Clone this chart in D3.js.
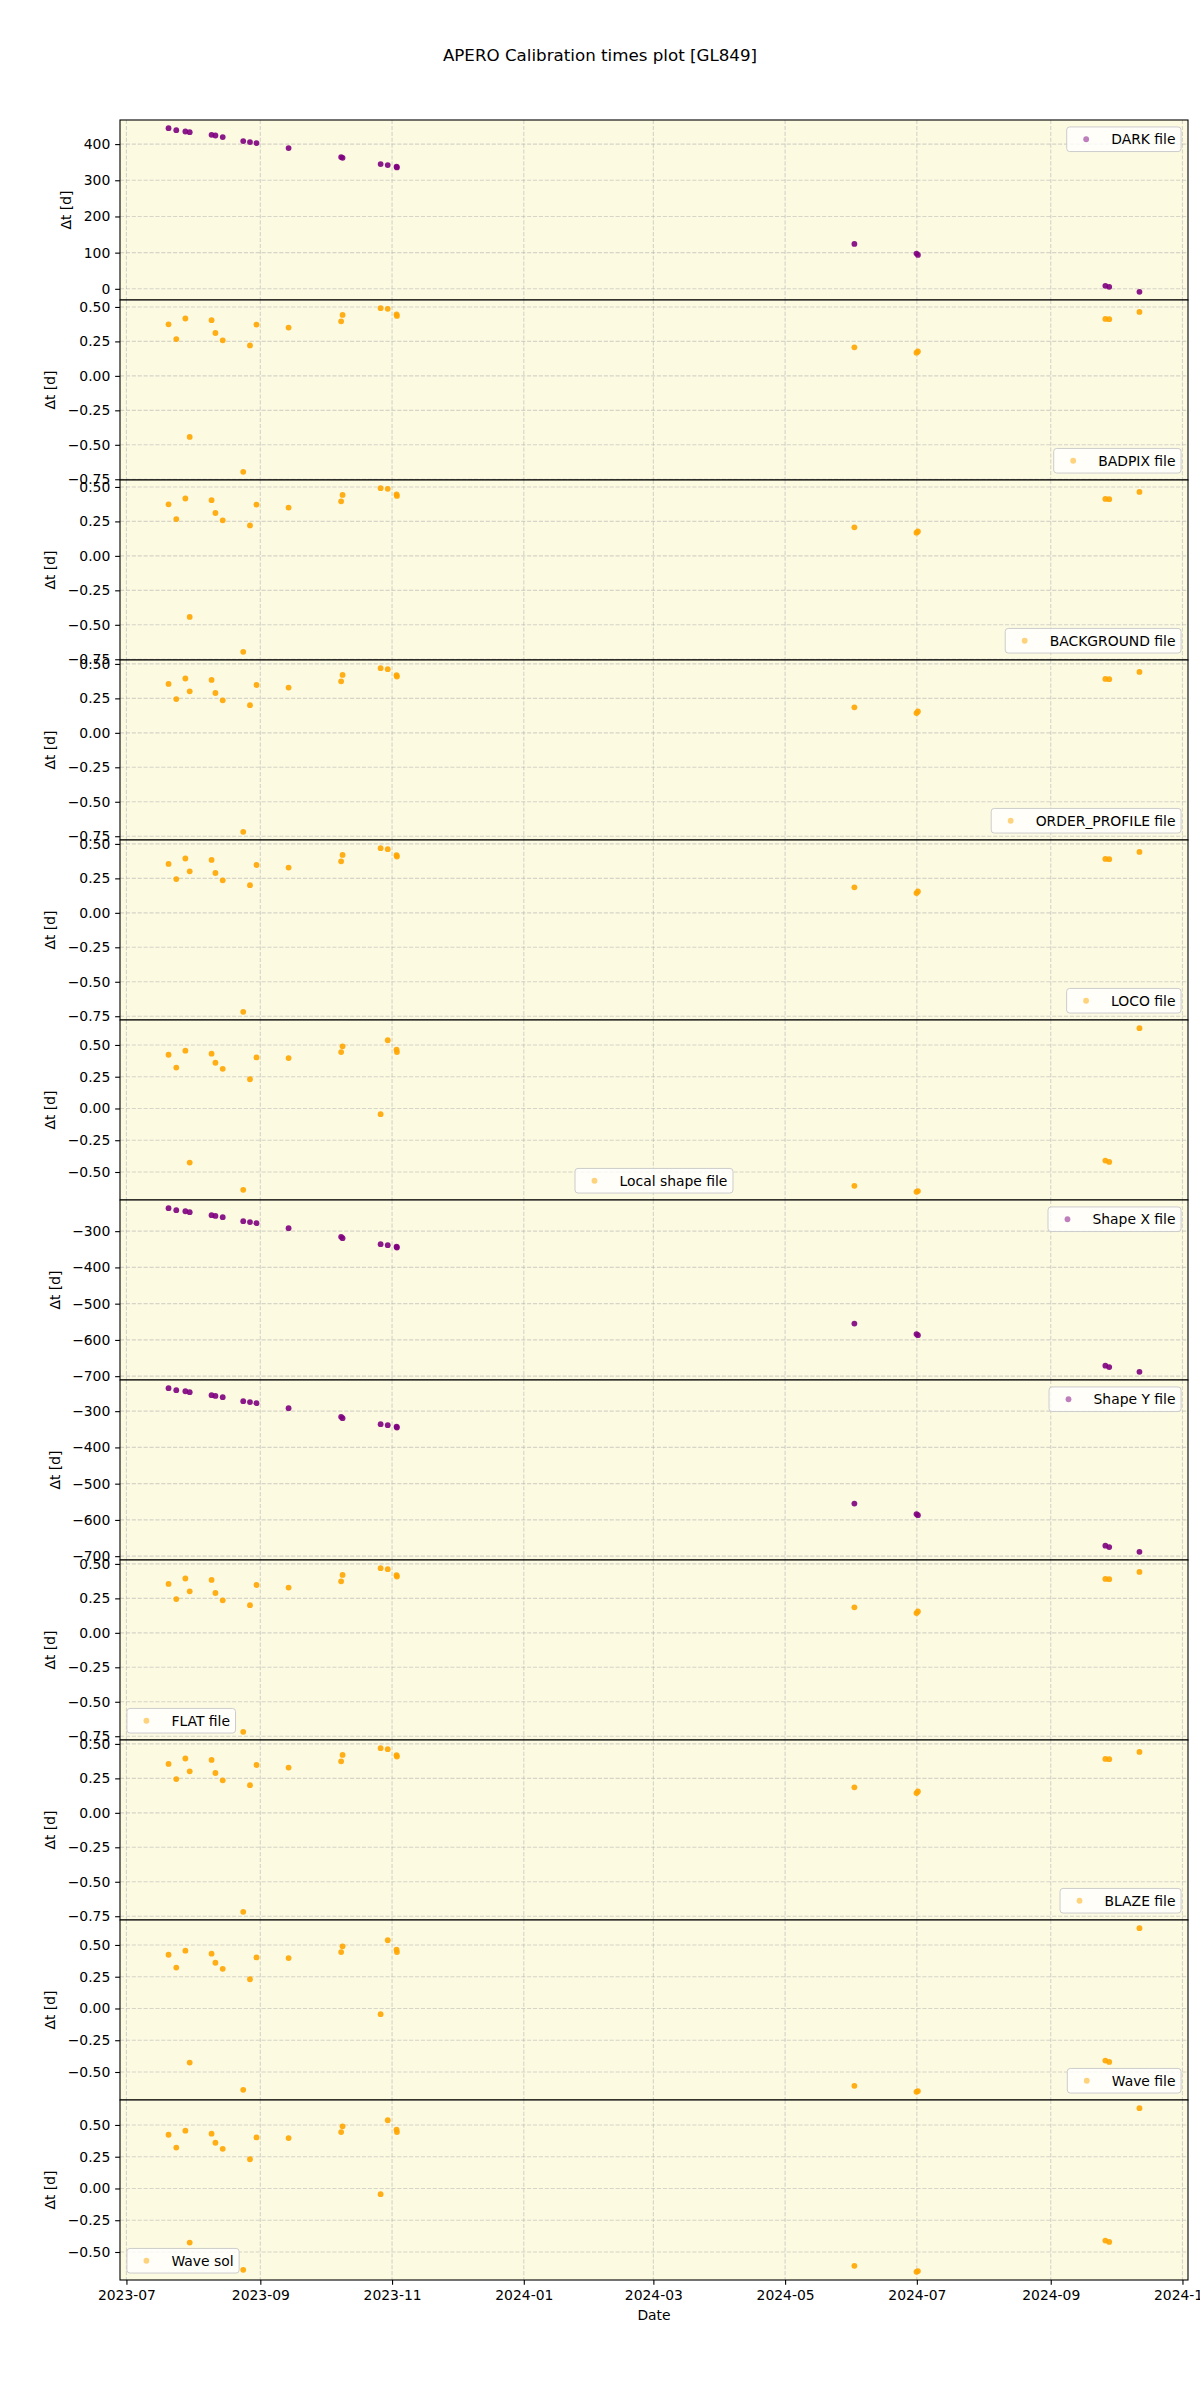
<!DOCTYPE html>
<html>
<head>
<meta charset="utf-8">
<script src="https://cdn.jsdelivr.net/npm/d3@7"></script>
<style>
  body { margin: 0; background: #fff; }
  svg { display: block; font-family: "DejaVu Sans", sans-serif; }
</style>
</head>
<body>
<svg width="1200" height="2400"></svg>
<script>
// observation dates (same for every calibration type)
var obsDates = ["2023-07-20T12:00", "2023-07-24T02:00", "2023-07-28T07:00", "2023-07-30T07:00",
    "2023-08-09T10:00", "2023-08-11T05:00", "2023-08-14T14:00", "2023-08-24T02:00",
    "2023-08-27T05:00", "2023-08-30T05:00", "2023-09-14T02:00", "2023-10-08T10:00",
    "2023-10-09T02:00", "2023-10-26T17:00", "2023-10-30T00:00", "2023-11-03T02:00",
    "2023-11-03T06:00", "2024-06-02T02:00", "2024-06-30T20:00", "2024-07-01T12:00",
    "2024-09-26T07:00", "2024-09-28T02:00", "2024-10-12T02:00"];

var darkVals = [444, 438.6, 434.8, 433, 425.6, 423.8, 419.3, 408.3, 405.5, 402.8, 389, 364,
    362, 344.8, 342, 337.5, 335.5, 124, 97.4, 93.8, 8.3, 5.5, -8.3];
var badpixVals = [0.374, 0.267, 0.416, -0.443, 0.404, 0.311, 0.258, -0.696, 0.221, 0.372, 0.350,
    0.396, 0.442, 0.491, 0.486, 0.445, 0.435, 0.207, 0.168, 0.177, 0.413, 0.411, 0.464];
var backgroundVals = [0.374, 0.267, 0.416, -0.443, 0.404, 0.311, 0.258, -0.696, 0.221, 0.372, 0.350,
    0.396, 0.442, 0.491, 0.486, 0.445, 0.435, 0.207, 0.168, 0.177, 0.413, 0.411, 0.464];
var orderProfileVals = [0.355, 0.245, 0.394, 0.301, 0.384, 0.289, 0.236, -0.718, 0.201, 0.347, 0.328,
    0.374, 0.420, 0.469, 0.462, 0.418, 0.408, 0.185, 0.143, 0.155, 0.391, 0.389, 0.442];
var locoVals = orderProfileVals.slice();
var flatVals = orderProfileVals.slice();
var blazeVals = orderProfileVals.slice();
var localShapeVals = [0.423, 0.322, 0.455, -0.426, 0.431, 0.360, 0.312, -0.640, 0.230, 0.402, 0.397,
    0.444, 0.489, -0.045, 0.537, 0.463, 0.444, -0.609, -0.656, -0.650, -0.410, -0.421, 0.632];
var waveVals = localShapeVals.slice();
var waveSolVals = localShapeVals.slice();
var shapeXVals = [-236.6, -242, -245, -247.7, -256, -258, -261.4, -272.5, -275, -278, -291.7, -315.7,
    -319.3, -335.8, -338.6, -343, -345, -555, -584, -587, -671, -675, -688];
var shapeYVals = shapeXVals.slice();

// tick values
var xTickDates = ["2023-07-01", "2023-09-01", "2023-11-01", "2024-01-01", "2024-03-01",
    "2024-05-01", "2024-07-01", "2024-09-01", "2024-11-01"];
var darkTicks = [0, 100, 200, 300, 400];
var fracTicks = [-0.75, -0.5, -0.25, 0, 0.25, 0.5];
var shapeTicks = [-700, -600, -500, -400, -300];

var panels = [
    {label: "DARK file", vals: darkVals, color: "purple", ticks: darkTicks, fmt: "d", loc: "upper right"},
    {label: "BADPIX file", vals: badpixVals, color: "orange", ticks: fracTicks, fmt: ".2f", loc: "lower right"},
    {label: "BACKGROUND file", vals: backgroundVals, color: "orange", ticks: fracTicks, fmt: ".2f", loc: "lower right"},
    {label: "ORDER_PROFILE file", vals: orderProfileVals, color: "orange", ticks: fracTicks, fmt: ".2f", loc: "lower right"},
    {label: "LOCO file", vals: locoVals, color: "orange", ticks: fracTicks, fmt: ".2f", loc: "lower right"},
    {label: "Local shape file", vals: localShapeVals, color: "orange", ticks: fracTicks, fmt: ".2f", loc: "lower center"},
    {label: "Shape X file", vals: shapeXVals, color: "purple", ticks: shapeTicks, fmt: "d", loc: "upper right"},
    {label: "Shape Y file", vals: shapeYVals, color: "purple", ticks: shapeTicks, fmt: "d", loc: "upper right"},
    {label: "FLAT file", vals: flatVals, color: "orange", ticks: fracTicks, fmt: ".2f", loc: "lower left"},
    {label: "BLAZE file", vals: blazeVals, color: "orange", ticks: fracTicks, fmt: ".2f", loc: "lower right"},
    {label: "Wave file", vals: waveVals, color: "orange", ticks: fracTicks, fmt: ".2f", loc: "lower right"},
    {label: "Wave sol", vals: waveSolVals, color: "orange", ticks: fracTicks, fmt: ".2f", loc: "lower left"}
];

var margin = {top: 120, left: 120, right: 12},
    panelH = 180,
    fs = 13.9,
    tickLen = 4.86,
    tickPad = 4.86,
    svg = d3.select("svg"),
    width = 1200 - margin.left - margin.right;

var dates = obsDates.map(function (d) { return new Date(d); });
var ext = d3.extent(dates, function (d) { return +d; }),
    padX = (ext[1] - ext[0]) * 0.05;
var x = d3.scaleTime()
    .domain([new Date(ext[0] - padX), new Date(ext[1] + padX)])
    .range([0, width]);
var xTicks = xTickDates.map(function (d) { return new Date(d + "T00:00"); });

svg.append("text")
    .attr("x", 600).attr("y", 61)
    .attr("text-anchor", "middle")
    .attr("font-size", 16.7)
    .text("APERO Calibration times plot [GL849]");

panels.forEach(function (p, i) {
    var g = svg.append("g")
        .attr("transform", "translate(" + margin.left + "," + (margin.top + i * panelH) + ")");

    var yext = d3.extent(p.vals),
        padY = (yext[1] - yext[0]) * 0.05;
    var y = d3.scaleLinear()
        .domain([yext[0] - padY, yext[1] + padY])
        .range([panelH, 0]);
    var yTicks = p.ticks.filter(function (t) {
        return t >= y.domain()[0] && t <= y.domain()[1];
    });

    g.append("rect")
        .attr("width", width).attr("height", panelH)
        .attr("fill", "#fcfae1");

    // grid
    g.selectAll(".gx").data(xTicks).enter().append("line")
        .attr("x1", function (d) { return x(d); }).attr("x2", function (d) { return x(d); })
        .attr("y1", 0).attr("y2", panelH)
        .attr("stroke", "#b0b0b0").attr("stroke-opacity", 0.5)
        .attr("stroke-width", 1.1).attr("stroke-dasharray", "4.1,1.8");
    g.selectAll(".gy").data(yTicks).enter().append("line")
        .attr("x1", 0).attr("x2", width)
        .attr("y1", function (d) { return y(d); }).attr("y2", function (d) { return y(d); })
        .attr("stroke", "#b0b0b0").attr("stroke-opacity", 0.5)
        .attr("stroke-width", 1.1).attr("stroke-dasharray", "4.1,1.8");

    // points
    g.selectAll(".pt").data(p.vals).enter().append("circle")
        .attr("cx", function (d, j) { return x(dates[j]); })
        .attr("cy", function (d) { return y(d); })
        .attr("r", 2.9)
        .attr("fill", p.color)
        .attr("fill-opacity", 0.9);

    // axes
    var yAxis = d3.axisLeft(y)
        .tickValues(yTicks)
        .tickFormat(d3.format(p.fmt))
        .tickSizeInner(tickLen).tickSizeOuter(0).tickPadding(tickPad);
    var ya = g.append("g").call(yAxis);
    ya.select(".domain").remove();
    ya.selectAll("line").attr("stroke-width", 1.1);
    ya.selectAll("text").attr("font-size", fs).attr("fill", "#000")
        .attr("font-family", "DejaVu Sans");

    var xAxis = d3.axisBottom(x)
        .tickValues(xTicks)
        .tickFormat(i === panels.length - 1 ? d3.timeFormat("%Y-%m") : function () { return ""; })
        .tickSizeInner(tickLen).tickSizeOuter(0).tickPadding(tickPad);
    var xa = g.append("g").attr("transform", "translate(0," + panelH + ")").call(xAxis);
    xa.select(".domain").remove();
    xa.selectAll("line").attr("stroke-width", 1.1);
    xa.selectAll("text").attr("font-size", fs).attr("fill", "#000")
        .attr("font-family", "DejaVu Sans");

    var maxW = 0;
    ya.selectAll("text").each(function () {
        maxW = Math.max(maxW, this.getComputedTextLength());
    });
    g.append("text")
        .attr("transform", "translate(" + (-(maxW + 27)) + "," + (panelH / 2) + ") rotate(-90)")
        .attr("text-anchor", "middle")
        .attr("dominant-baseline", "central")
        .attr("font-size", fs)
        .text("\u0394t [d]");

    g.append("rect")
        .attr("width", width).attr("height", panelH)
        .attr("fill", "none").attr("stroke", "#000").attr("stroke-width", 1.1);

    // legend
    var lg = g.append("g");
    var box = lg.append("rect").attr("rx", 3).attr("ry", 3)
        .attr("fill", "#fff").attr("fill-opacity", 0.8)
        .attr("stroke", "#cccccc").attr("stroke-width", 1);
    var lt = lg.append("text").attr("font-size", fs).text(p.label);
    var tw = lt.node().getComputedTextLength(),
        bp = 0.4 * fs,
        bw = 2 * bp + 2 * fs + 0.8 * fs + tw,
        bh = 24.6,
        ax = 0.5 * fs,
        bx, by;
    if (p.loc === "upper right") { bx = width - ax - bw; by = ax; }
    else if (p.loc === "lower right") { bx = width - ax - bw; by = panelH - ax - bh; }
    else if (p.loc === "lower left") { bx = ax; by = panelH - ax - bh; }
    else { bx = (width - bw) / 2; by = panelH - ax - bh; }
    box.attr("x", bx).attr("y", by).attr("width", bw).attr("height", bh);
    lg.append("circle")
        .attr("cx", bx + bp + fs).attr("cy", by + bh / 2)
        .attr("r", 2.9).attr("fill", p.color).attr("fill-opacity", 0.5);
    lt.attr("x", bx + bp + 2.8 * fs).attr("y", by + bh / 2)
        .attr("dominant-baseline", "central");
});

svg.append("text")
    .attr("x", margin.left + width / 2)
    .attr("y", margin.top + panels.length * panelH + 40)
    .attr("text-anchor", "middle")
    .attr("font-size", fs)
    .text("Date");
</script>
</body>
</html>
